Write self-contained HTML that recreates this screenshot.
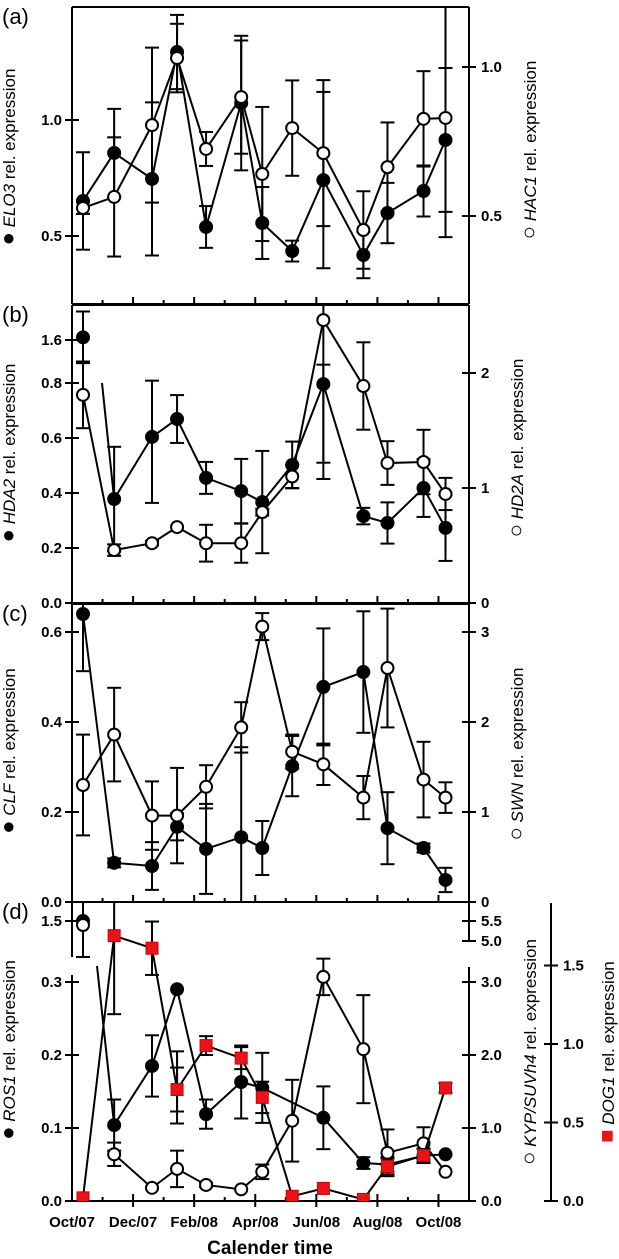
<!DOCTYPE html>
<html><head><meta charset="utf-8">
<style>
html,body{margin:0;padding:0;background:#fff;}
svg{display:block;font-family:"Liberation Sans",Arial,sans-serif;}
.tl{font-size:15px;font-weight:bold;fill:#000;}
.at{font-size:17px;fill:#000;}
.pl{font-size:22px;fill:#000;}
.gl{font-size:22px;}
</style></head>
<body>
<svg id="chart" width="619" height="1259" viewBox="0 0 619 1259" xmlns="http://www.w3.org/2000/svg">
<defs>
<clipPath id="clipA"><rect x="72" y="7" width="397" height="297"/></clipPath>
<clipPath id="clipB"><rect x="72" y="305" width="397" height="298"/></clipPath>
<clipPath id="clipC"><rect x="72" y="604" width="397" height="298"/></clipPath>
<clipPath id="clipD"><rect x="72" y="902" width="397" height="299"/></clipPath>
</defs>
<g id="axes"></g>
<g id="marks"></g>
<g id="labels">
<text class="pl" x="2" y="24">(a)</text>
<text class="pl" x="2" y="322">(b)</text>
<text class="pl" x="2" y="621">(c)</text>
<text class="pl" x="2" y="919">(d)</text>

<text class="at" transform="translate(15,157) rotate(-90)" text-anchor="middle"><tspan class="gl">●</tspan> <tspan font-style="italic">ELO3</tspan> rel. expression</text>
<text class="at" transform="translate(536,150) rotate(-90)" text-anchor="middle"><tspan class="gl">○</tspan>  <tspan font-style="italic">HAC1</tspan> rel. expression</text>
<text class="at" transform="translate(15,453) rotate(-90)" text-anchor="middle"><tspan class="gl">●</tspan> <tspan font-style="italic">HDA2</tspan> rel. expression</text>
<text class="at" transform="translate(523,448) rotate(-90)" text-anchor="middle"><tspan class="gl">○</tspan>  <tspan font-style="italic">HD2A</tspan> rel. expression</text>
<text class="at" transform="translate(15,751) rotate(-90)" text-anchor="middle"><tspan class="gl">●</tspan> <tspan font-style="italic">CLF</tspan> rel. expression</text>
<text class="at" transform="translate(523,754) rotate(-90)" text-anchor="middle"><tspan class="gl">○</tspan>  <tspan font-style="italic">SWN</tspan> rel. expression</text>
<text class="at" transform="translate(15,1050) rotate(-90)" text-anchor="middle"><tspan class="gl">●</tspan> <tspan font-style="italic">ROS1</tspan> rel. expression</text>
<text class="at" transform="translate(536,1052) rotate(-90)" text-anchor="middle"><tspan class="gl">○</tspan> <tspan font-style="italic">KYP/SUVh4</tspan> rel. expression</text>
<text class="at" transform="translate(614,1052) rotate(-90)" text-anchor="middle"><tspan class="gl" fill="#e8141a">■</tspan> <tspan font-style="italic">DOG1</tspan> rel. expression</text>
<text x="270" y="1254" text-anchor="middle" font-size="19" font-weight="bold">Calender time</text>
</g>
</svg>
<script>
// ---- data ----
const sampleMonths = [0.36,1.38,2.62,3.44,4.39,5.54,6.23,7.21,8.23,9.54,10.33,11.51,12.23];
const monthLabels = ["Oct/07","Dec/07","Feb/08","Apr/08","Jun/08","Aug/08","Oct/08"];
const monthLabelIdx = [0,2,4,6,8,10,12];

const elo3 = [0.651,0.858,0.746,1.293,0.539,1.073,0.556,0.435,0.741,0.418,0.599,0.694,0.914];
const elo3Err = [0.21,0.19,0.33,0.16,0.09,0.29,0.155,0.045,0.38,0.10,0.13,0.11,0.31];
const hac1 = [0.527,0.564,0.805,1.030,0.725,0.899,0.641,0.795,0.711,0.453,0.664,0.826,0.829];
const hac1Err = [0.02,0.20,0.26,0.115,0.057,0.19,0.225,0.16,0.245,0.13,0.15,0.16,0.40];

const hda2 = [1.65,0.378,0.604,0.669,0.455,0.407,0.367,0.502,0.796,0.316,0.291,0.418,0.273];
const hda2Err = [0.48,0.19,0.24,0.087,0.058,0.117,0.186,0.085,0.345,0.03,0.075,0.105,0.12];
const hd2a = [1.81,0.46,0.52,0.66,0.52,0.52,0.79,1.10,2.46,1.887,1.217,1.226,0.948];
const hd2aErr = [0.29,0.05,0.02,0.0,0.16,0.17,0.03,0.10,1.24,0.38,0.19,0.28,0.14];

const clf = [0.64,0.087,0.08,0.167,0.118,0.144,0.12,0.302,0.478,0.511,0.164,0.12,0.049];
const clfErr = [0.127,0.01,0.053,0.03,0.10,0.2,0.06,0.067,0.13,0.135,0.08,0.01,0.027];
const swn = [1.30,1.86,0.96,0.96,1.28,1.94,3.06,1.67,1.53,1.16,2.6,1.36,1.16];
const swnErr = [0.56,0.52,0.38,0.53,0.24,0.28,0.15,0.19,0.23,0.24,0.66,0.42,0.17];

const ros1 = [1.5,0.104,0.185,0.29,0.119,0.163,0.155,null,0.114,0.052,0.05,0.062,0.064];
const ros1Err = [0.2,0.035,0.042,0.085,0.02,0.05,0.048,0,0.043,0.008,0.01,0.01,0];
const kyp = [5.4,0.64,0.18,0.44,0.22,0.16,0.40,1.10,3.07,2.08,0.66,0.79,0.40];
const kypErr = [0.8,0.16,0,0.25,0.03,0,0.1,0.56,0.25,0.74,0.32,0.22,0];
const dog1 = [0.02,1.69,1.61,0.71,0.99,0.91,0.66,0.03,0.08,0.01,0.22,0.29,0.72];
const dog1Err = [0,0.5,0.17,0.14,0.06,0.07,0.1,0,0,0,0.05,0.04,0.03];

const ticksA_L = [0.5,1.0], ticksA_R = [0.5,1.0];
const ticksB_L = [0.0,0.2,0.4,0.6,0.8,1.6], ticksB_R = [0,1,2];
const ticksC_L = [0.0,0.2,0.4,0.6], ticksC_R = [0,1,2,3];
const ticksD_L = [0.0,0.1,0.2,0.3,1.5], ticksD_R = [0.0,1.0,2.0,3.0,5.0,5.5], ticksD_D = [0.0,0.5,1.0,1.5];

// ---- scales ----
const X0=72, X1=469, MPX=30.54;
const x = m => X0 + m*MPX;
const yA_L = v => 120 - (v-1)*232;
const yA_R = v => 67 - (v-1)*298;
const yB_L = v => v<=0.8 ? 603 - v*275 : 383 - (v-0.8)*53.75;
const yB_R = v => 603 - v*115;
const yC_L = v => 902 - v*450;
const yC_R = v => 902 - v*90;
const yD_L = v => v<=0.35 ? 1201 - v*730 : 921 + (1.5-v)*180;
const yD_R = v => v<=3.5 ? 1201 - v*73 : 941 - (v-5)*40;
const yD_D = v => 1201 - v*157;

const NS="http://www.w3.org/2000/svg";
const axes=document.getElementById('axes'), marks=document.getElementById('marks');
function mk(tag, attrs, parent){const e=document.createElementNS(NS,tag);for(const k in attrs)e.setAttribute(k,attrs[k]);parent.appendChild(e);return e;}
function line(p,x1,y1,x2,y2,w){return mk('line',{x1:x1,y1:y1,x2:x2,y2:y2,stroke:'#000','stroke-width':w||2},p);}

const panels=[{t:7,b:304},{t:305,b:603},{t:604,b:902},{t:902,b:1201}];
panels.forEach((p,i)=>{
  const g=mk('g',{},axes);
  
  
  line(g,X0,p.t,X1,p.t);
  line(g,X0,p.b,X1,p.b);
  if(i===3){
    line(g,X0,p.t,X0,957); line(g,X0,975,X0,p.b);
    line(g,X1,p.t,X1,941); line(g,X1,967,X1,p.b);
  } else { line(g,X0,p.t,X0,p.b); line(g,X1,p.t,X1,p.b); }
  for(let m=1;m<13;m++){
    const xx=x(m), major=(m%2===0);
    line(g,xx,p.b-(major?7:4),xx,p.b+(major&&i===3?6:0));
  }
});
function yTicks(ticks,scale,side,fmt,name,ax){
  const g=mk('g',{},axes);
  
  
  ticks.forEach(v=>{
    const yy=scale(v);
    line(g,ax-7,yy,ax+7,yy);
    const t=mk('text',{class:'tl',x: side==='L'? ax-10 : ax+12, y:yy+5,'text-anchor': side==='L'?'end':'start'},g);
    t.textContent=fmt(v);
  });
}
const f1=v=>v.toFixed(1), f0=v=>v.toFixed(0);
yTicks(ticksA_L,yA_L,'L',f1,'elo3-y-ticks',X0);
yTicks(ticksA_R,yA_R,'R',f1,'hac1-y-ticks',X1);
yTicks(ticksB_L,yB_L,'L',f1,'hda2-y-ticks',X0);
yTicks(ticksB_R,yB_R,'R',f0,'hd2a-y-ticks',X1);
yTicks(ticksC_L,yC_L,'L',f1,'clf-y-ticks',X0);
yTicks(ticksC_R,yC_R,'R',f0,'swn-y-ticks',X1);
yTicks(ticksD_L,yD_L,'L',f1,'ros1-y-ticks',X0);
yTicks(ticksD_R,yD_R,'R',f1,'kyp-y-ticks',X1);
const DX=551;
const dg=mk('g',{},axes);


line(dg,DX,903,DX,1201);
yTicks(ticksD_D,yD_D,'R',f1,'dog1-y-ticks',DX);
const xl=mk('g',{},axes);


monthLabels.forEach((s,i)=>{
  const t=mk('text',{class:'tl',x:x(monthLabelIdx[i]),y:1227,'text-anchor':'middle'},xl);
  t.textContent=s;
});

function series(vals,errs,scale,clip,style,name,brk){
  const g=mk('g',{'clip-path':'url(#'+clip+')'},marks);
  
  
  const pts=vals.map((v,i)=>v===null?null:[x(sampleMonths[i]),scale(v)]);
  let d='', pen=false;
  pts.forEach((p,i)=>{
    if(!p){return;}
    if(brk && i===1){
      d+=' M'+(pts[0][0]+1)+' '+brk.stubY;
      const bx=pts[0][0]+brk.frac*(p[0]-pts[0][0]);
      d+=' M'+bx+' '+brk.startY+' L'+p[0]+' '+p[1];
      pen=true; return;
    }
    d+=(pen?' L':' M')+p[0]+' '+p[1]; pen=true;
  });
  mk('path',{d:d,fill:'none',stroke:'#000','stroke-width':2},g);
  vals.forEach((v,i)=>{
    if(v===null||!errs[i])return;
    const xx=pts[i][0], yt=scale(v+errs[i]), yb=scale(v-errs[i]);
    line(g,xx,yt,xx,yb); line(g,xx-7,yt,xx+7,yt); line(g,xx-7,yb,xx+7,yb);
  });
  pts.forEach((p,i)=>{
    if(!p)return;
    let m;
    if(style==='sq') m=mk('rect',{x:p[0]-6,y:p[1]-6,width:12,height:12,fill:'#e8141a',stroke:'#c00','stroke-width':1},g);
    else m=mk('circle',{cx:p[0],cy:p[1],r:6,fill:style==='filled'?'#000':'#fff',stroke:'#000','stroke-width':2},g);
    
    
  });
}
series(elo3,elo3Err,yA_L,'clipA','filled','elo3-series');
series(hac1,hac1Err,yA_R,'clipA','open','hac1-series');
series(hda2,hda2Err,yB_L,'clipB','filled','hda2-series',{stubY:357,frac:0.61,startY:383});
series(hd2a,hd2aErr,yB_R,'clipB','open','hd2a-series');
series(clf,clfErr,yC_L,'clipC','filled','clf-series');
series(swn,swnErr,yC_R,'clipC','open','swn-series');
series(ros1,ros1Err,yD_L,'clipD','filled','ros1-series',{stubY:957,frac:0.45,startY:966});
series(kyp,kypErr,yD_R,'clipD','open','kyp-series',{stubY:yD_R(5.4),frac:1,startY:yD_R(kyp[1])});
series(dog1,dog1Err,yD_D,'clipD','sq','dog1-series');
</script>
</body></html>
